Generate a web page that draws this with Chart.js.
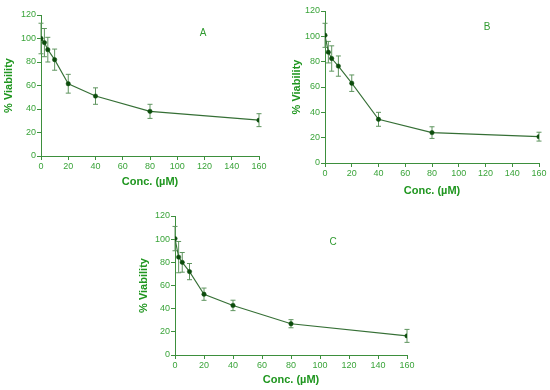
<!DOCTYPE html>
<html>
<head>
<meta charset="utf-8">
<script src="https://cdn.jsdelivr.net/npm/chart.js@4.4.0/dist/chart.umd.min.js"></script>
<style>
  body { margin: 0; background: #fff; }
  #wrap { position: relative; width: 550px; height: 390px; overflow: hidden; }
  canvas { position: absolute; }
  .tag { position: absolute; font: 10px "Liberation Sans", Arial, sans-serif; color: #2f9a2f; transform: translate(-50%, -50%); }
</style>
</head>
<body>
<div id="wrap">
  <canvas id="chartA" width="270" height="195" style="left:0px;top:0px"></canvas>
  <canvas id="chartB" width="265" height="200" style="left:285px;top:0px"></canvas>
  <canvas id="chartC" width="285" height="190" style="left:135px;top:200px"></canvas>
  <span class="tag" style="left:203px;top:32px">A</span>
  <span class="tag" style="left:487px;top:26px">B</span>
  <span class="tag" style="left:333px;top:241px">C</span>
</div>
<script>
// concentrations (µM)
const conc = [0, 2.5, 5, 10, 20, 40, 80, 160];

const viabilityA = [100, 96.5, 90.5, 82, 61.5, 51, 38, 30.5];
const errorA = [13, 12, 10.5, 9, 8, 7, 6, 5.5];

const viabilityB = [100.8, 87.5, 82.5, 76.5, 63, 34.5, 24, 20.8];
const errorB = [9.5, 8.5, 10, 8, 6.5, 5.5, 4.6, 3.5];

const viabilityC = [100.5, 84.5, 80, 72, 52.5, 42.8, 27, 16.5];
const errorC = [10.5, 13.5, 8.5, 7, 5.3, 4.5, 3.5, 5.6];

const xTitle = "Conc. (\u00b5M)";
const yTitle = "% Viability";

const tickColor = "#3aa43a";
const titleColor = "#1f961f";
const axisColor = "#3d8f3d";

// vertical error bars, drawn under the points
const errorBars = {
  id: "errorBars",
  beforeDatasetsDraw(chart) {
    const ctx = chart.ctx;
    const xs = chart.scales.x, ys = chart.scales.y;
    chart.data.datasets.forEach(ds => {
      if (!ds.errors) return;
      ctx.save();
      ctx.strokeStyle = "#5f955f";
      ctx.lineWidth = 1;
      ds.data.forEach((p, i) => {
        const e = ds.errors[i];
        const x = xs.getPixelForValue(p.x);
        const top = ys.getPixelForValue(p.y + e);
        const bot = ys.getPixelForValue(p.y - e);
        ctx.beginPath();
        ctx.moveTo(x, top); ctx.lineTo(x, bot);
        ctx.moveTo(x - 2.5, top); ctx.lineTo(x + 2.5, top);
        ctx.moveTo(x - 2.5, bot); ctx.lineTo(x + 2.5, bot);
        ctx.stroke();
      });
      ctx.restore();
    });
  }
};

function makeChart(id, values, errors, lay) {
  new Chart(document.getElementById(id), {
    type: "scatter",
    data: {
      datasets: [{
        data: conc.map((c, i) => ({ x: c, y: values[i] })),
        errors: errors,
        showLine: true,
        tension: 0,
        borderColor: "#356f35",
        borderWidth: 1.1,
        pointBackgroundColor: "#0c4c0c",
        pointBorderColor: "#0c4c0c",
        pointBorderWidth: 0.5,
        pointRadius: 2.2,
        pointStyle: "circle",
      }],
    },
    plugins: [errorBars],
    options: {
      responsive: false,
      animation: false,
      devicePixelRatio: 1,
      layout: { padding: { top: lay.top, right: lay.right, left: 0, bottom: 0 } },
      plugins: { legend: { display: false }, tooltip: { enabled: false } },
      scales: {
        x: {
          type: "linear",
          min: 0, max: 160,
          afterFit: s => { s.height = lay.xh; },
          ticks: { stepSize: 20, color: tickColor, padding: 1, font: { size: 9, family: "Liberation Sans" } },
          grid: { drawOnChartArea: false, drawTicks: true, tickLength: 4, color: axisColor },
          border: { display: true, color: axisColor, width: 1 },
          title: { display: true, text: xTitle, color: titleColor, padding: { top: 0, bottom: lay.xtp }, font: { size: 11, weight: "bold", family: "Liberation Sans" } },
        },
        y: {
          min: 0, max: 120,
          afterFit: s => { s.width = lay.yw; },
          ticks: { stepSize: 20, color: tickColor, padding: 1, font: { size: 9, family: "Liberation Sans" } },
          grid: { drawOnChartArea: false, drawTicks: true, tickLength: 4, color: axisColor },
          border: { display: true, color: axisColor, width: 1 },
          title: { display: true, text: yTitle, color: titleColor, padding: { top: lay.ytp, bottom: 0 }, font: { size: 11, weight: "bold", family: "Liberation Sans" } },
        },
      },
    },
  });
}

makeChart("chartA", viabilityA, errorA, { top: 15, right: 11, xh: 39, yw: 41, xtp: 6, ytp: 2 });
makeChart("chartB", viabilityB, errorB, { top: 11, right: 11, xh: 37, yw: 40, xtp: 2, ytp: 5 });
makeChart("chartC", viabilityC, errorC, { top: 16, right: 13, xh: 35, yw: 40, xtp: 3, ytp: 2 });
</script>
</body>
</html>
